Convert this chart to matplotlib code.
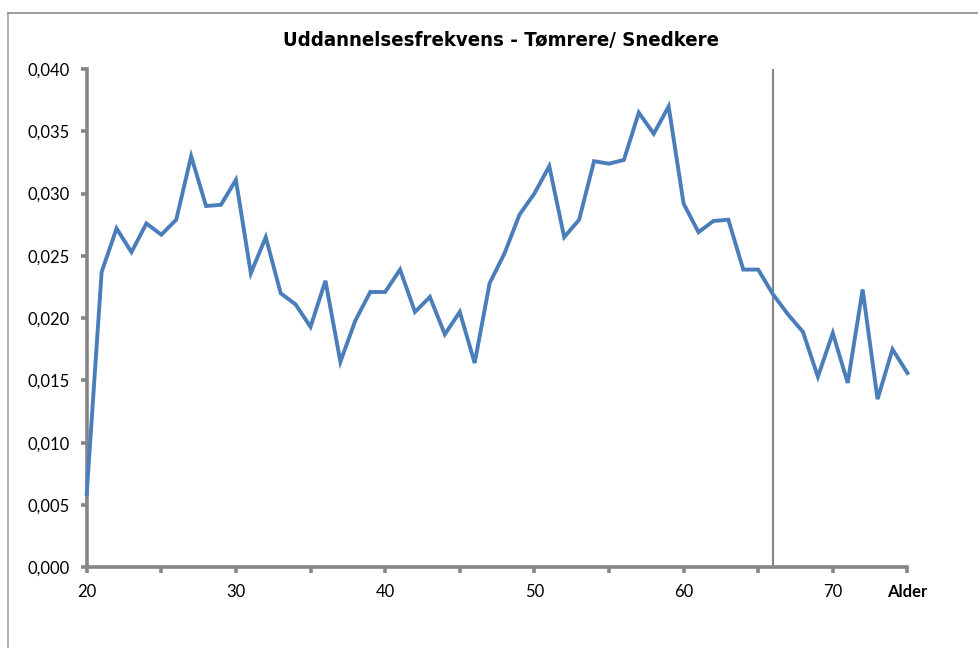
# Uddannelsesfrekvens for tømrere/snedkere fordelt på alder
import matplotlib
matplotlib.use("Agg")
import matplotlib.pyplot as plt
from matplotlib.lines import Line2D
from matplotlib.ticker import FuncFormatter

# Alder og frekvens
ages = list(range(20, 76))
freq = [0.0059, 0.0237, 0.0272, 0.0253, 0.0276, 0.0267, 0.0279, 0.0330,
        0.0290, 0.0291, 0.0311, 0.0236, 0.0265, 0.0220, 0.0211, 0.0193,
        0.0230, 0.0165, 0.0198, 0.0221, 0.0221, 0.0239, 0.0205, 0.0217,
        0.0187, 0.0205, 0.0164, 0.0228, 0.0252, 0.0283, 0.0300, 0.0322,
        0.0265, 0.0279, 0.0326, 0.0324, 0.0327, 0.0365, 0.0348, 0.0370,
        0.0292, 0.0269, 0.0278, 0.0279, 0.0239, 0.0239, 0.0219, 0.0203,
        0.0189, 0.0153, 0.0188, 0.0148, 0.0223, 0.0135, 0.0175, 0.0156]

x_ticks = list(range(20, 76, 5))
x_labels = ['20', '', '30', '', '40', '', '50', '', '60', '', '70', 'Alder']
marker_age = 66

title = "Uddannelsesfrekvens - Tømrere/ Snedkere"

line_color = '#4a7ebb'
axis_color = '#868686'


def main():
    plt.rcParams['font.family'] = ['Lato', 'DejaVu Sans']
    W, H = 979, 648
    fig = plt.figure(figsize=(W / 100, H / 100), dpi=100)

    # Chart-area frame (left and top edges visible)
    fig.add_artist(Line2D([8 / W, 8 / W], [0, 1 - 13 / H], transform=fig.transFigure,
                          color='#a6a6a6', lw=1.2))
    fig.add_artist(Line2D([8 / W, 1], [1 - 13 / H, 1 - 13 / H], transform=fig.transFigure,
                          color='#8c8c8c', lw=1.2))

    left, right, top, bottom = 86.7, 907.4, 69, 567.3
    ax = fig.add_axes([left / W, 1 - bottom / H, (right - left) / W, (bottom - top) / H])

    ax.plot([marker_age, marker_age], [0, 0.040], color=axis_color, lw=1.5, zorder=2)
    ax.plot(ages, freq, color=line_color, lw=2.8, solid_joinstyle='miter', zorder=3,
            clip_on=False)

    ax.set_xlim(20, 75)
    ax.set_ylim(0, 0.040)

    for s in ['top', 'right']:
        ax.spines[s].set_visible(False)
    for s in ['left', 'bottom']:
        ax.spines[s].set_color(axis_color)
        ax.spines[s].set_linewidth(2.6)
        ax.spines[s].set_capstyle('projecting')

    ax.set_yticks([i * 0.005 for i in range(9)])
    ax.yaxis.set_major_formatter(FuncFormatter(lambda v, p: f"{v:.3f}".replace('.', ',')))
    ax.set_xticks(x_ticks)
    ax.set_xticklabels(x_labels)
    ax.get_xticklabels()[-1].set_fontweight('bold')

    ax.tick_params(axis='both', direction='out', length=4, width=2.6, color=axis_color,
                   labelsize=12, labelcolor='black')
    ax.tick_params(axis='x', pad=8)
    ax.tick_params(axis='y', pad=8)

    fig.text(501 / W, 1 - 40 / H, title, ha='center', va='center', fontsize=14.6,
             fontweight='bold', family=['DejaVu Sans'], fontstretch='condensed')

    fig.savefig('out.png', dpi=100)


if __name__ == '__main__':
    main()
